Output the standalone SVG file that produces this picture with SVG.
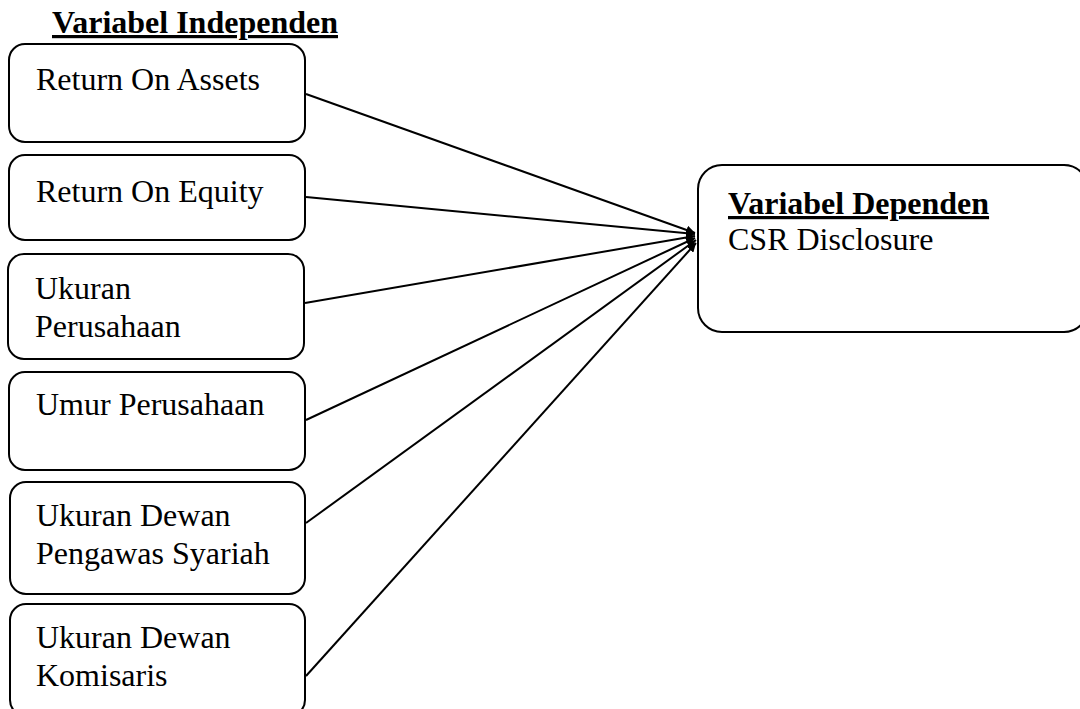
<svg xmlns="http://www.w3.org/2000/svg" width="1080" height="709" viewBox="0 0 1080 709">
<style>
.box{fill:#fff;stroke:#000;stroke-width:2}
.t{font-family:"Liberation Serif","Times New Roman",serif;font-size:32px;fill:#000}
.b{font-weight:bold;text-decoration:underline}
.c{stroke:#000;stroke-width:2;fill:none;marker-end:url(#ah)}
</style>
<defs>
<marker id="ah" viewBox="0 0 10 10" refX="10" refY="5" markerWidth="9" markerHeight="9" markerUnits="userSpaceOnUse" orient="auto">
<path d="M0,0 L10,5 L0,10 z" fill="#000"/>
</marker>
</defs>
<rect width="1080" height="709" fill="#fff"/>
<text class="t b" x="52" y="33">Variabel Independen</text>
<g id="n1"><rect class="box" x="9" y="44" width="296" height="98" rx="16"/><text class="t" x="36" y="90">Return On Assets</text></g>
<g id="n2"><rect class="box" x="9" y="155" width="296" height="85" rx="16"/><text class="t" x="36" y="202">Return On Equity</text></g>
<g id="n3"><rect class="box" x="8" y="254" width="296" height="105" rx="16"/><text class="t" x="35" y="299">Ukuran</text><text class="t" x="35" y="337">Perusahaan</text></g>
<g id="n4"><rect class="box" x="9" y="372" width="296" height="98" rx="16"/><text class="t" x="36" y="415">Umur Perusahaan</text></g>
<g id="n5"><rect class="box" x="10" y="482" width="295" height="112" rx="16"/><text class="t" x="36" y="526">Ukuran Dewan</text><text class="t" x="36" y="564">Pengawas Syariah</text></g>
<g id="n6"><rect class="box" x="10" y="604" width="295" height="112" rx="16"/><text class="t" x="36" y="648">Ukuran Dewan</text><text class="t" x="36" y="686">Komisaris</text></g>
<g id="n7"><rect class="box" x="698" y="165" width="390" height="167" rx="24"/><text class="t b" x="728" y="214">Variabel Dependen</text><text class="t" x="728" y="250">CSR Disclosure</text></g>
<g id="connectors">
<line class="c" x1="306" y1="94" x2="695" y2="233"/>
<line class="c" x1="306" y1="197" x2="695" y2="234"/>
<line class="c" x1="305" y1="303" x2="695" y2="236"/>
<line class="c" x1="306" y1="420" x2="695" y2="238"/>
<line class="c" x1="306" y1="523" x2="696" y2="240"/>
<line class="c" x1="306" y1="676" x2="696" y2="243"/>
</g>
</svg>
